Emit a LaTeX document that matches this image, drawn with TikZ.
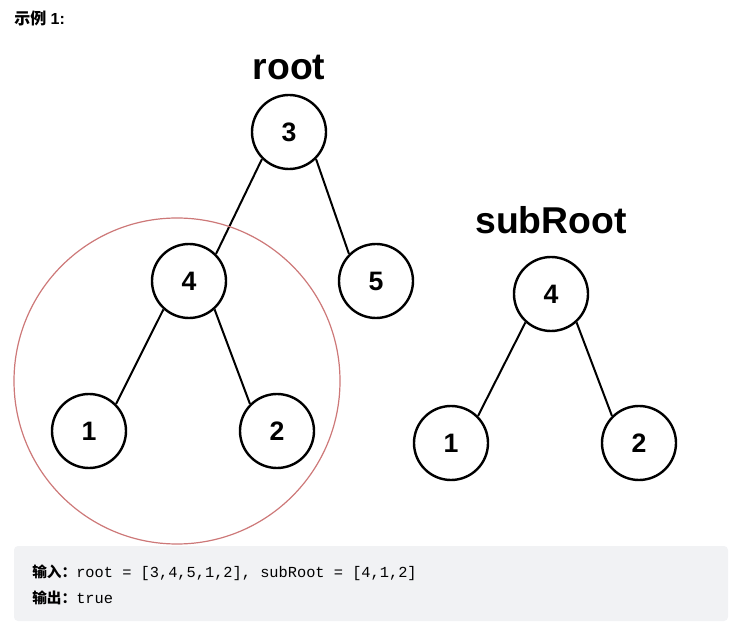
\documentclass[tikz,border=0pt]{standalone}
\usepackage{fontspec}
\setmainfont{Liberation Sans}
\setmonofont{Liberation Mono}
\newfontfamily\cjk{Noto Sans CJK SC}
\usepackage{tikz}
\definecolor{ringred}{RGB}{205,120,120}
\definecolor{codebg}{RGB}{241,242,244}

\begin{document}
\begin{tikzpicture}[x=0.75pt,y=-0.75pt,
  treenode/.style={draw,line width=1.8pt,circle,minimum size=55.5pt,inner sep=0pt,font=\fontsize{20}{20}\selectfont\bfseries},
  treelabel/.style={font=\fontsize{28}{28}\selectfont\bfseries},
  edge/.style={line width=1.5pt}]
\useasboundingbox (0,0) rectangle (736,627);
\node[anchor=west,inner sep=0pt,font=\fontsize{12}{14}\selectfont\bfseries] (title) at (14,18) {{\cjk 示例} 1:};
% main tree
\begin{scope}
  \node[treelabel] (rootlbl) at (289,68) {root};
  \node[treenode] (r3) at (289,132) {3};
  \node[treenode] (r4) at (189,281) {4};
  \node[treenode] (r5) at (376,281) {5};
  \node[treenode] (r1) at (89,431) {1};
  \node[treenode] (r2) at (277,431) {2};
  \draw[edge] (r3.225)--(r4.45);
  \draw[edge] (r3.315)--(r5.135);
  \draw[edge] (r4.228)--(r1.45);
  \draw[edge] (r4.312)--(r2.135);
  \draw[ringred,line width=0.9pt] (177,381) circle (163);
\end{scope}
% subtree
\begin{scope}
  \node[treelabel] (sublbl) at (551,220) {subRoot};
  \node[treenode] (s4) at (551,294) {4};
  \node[treenode] (s1) at (451,443) {1};
  \node[treenode] (s2) at (639,443) {2};
  \draw[edge] (s4.228)--(s1.45);
  \draw[edge] (s4.312)--(s2.135);
\end{scope}
% input / output box
\fill[codebg,rounded corners=3pt] (14,546) rectangle (728,621);
\node[anchor=west,inner sep=0pt,font=\fontsize{11}{13}\selectfont] (inp) at (32,573) {{\cjk\bfseries 输入：}{\fontsize{11.5}{13}\selectfont\ttfamily root = [3,4,5,1,2], subRoot = [4,1,2]}};
\node[anchor=west,inner sep=0pt,font=\fontsize{11}{13}\selectfont] (outp) at (32,598) {{\cjk\bfseries 输出：}{\fontsize{11.5}{13}\selectfont\ttfamily true}};
\end{tikzpicture}
\end{document}
